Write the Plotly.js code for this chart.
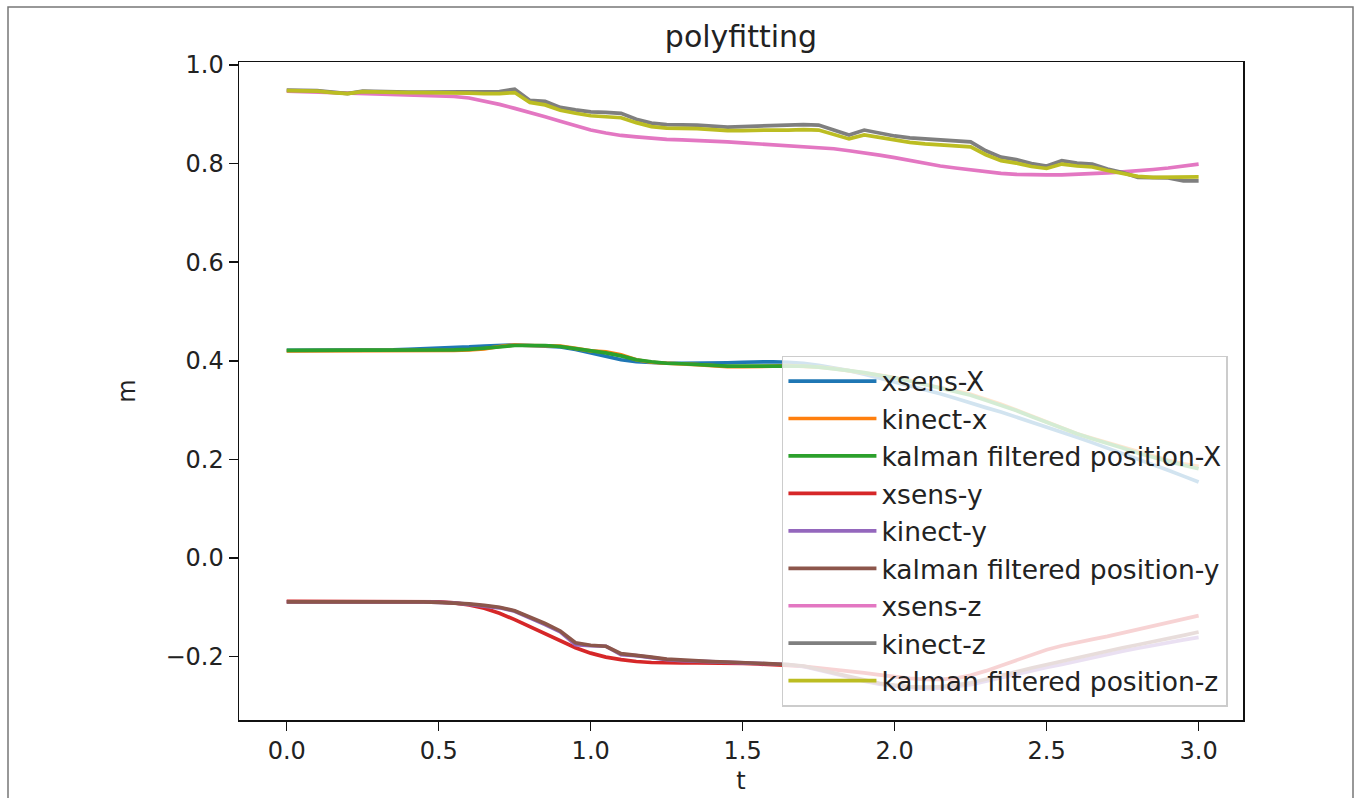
<!DOCTYPE html>
<html>
<head>
<meta charset="utf-8">
<script src="https://cdn.plot.ly/plotly-3.0.1.min.js"></script>
<style>
html,body{margin:0;padding:0;background:#fff;}
#chart{width:1360px;height:798px;}
</style>
</head>
<body>
<div id="chart"></div>
<script>
const t = [0.00,0.05,0.10,0.15,0.20,0.25,0.30,0.35,0.40,0.45,0.50,0.55,0.60,0.65,0.70,0.75,0.80,0.85,0.90,0.95,
  1.00,1.05,1.10,1.15,1.20,1.25,1.30,1.35,1.40,1.45,1.50,1.55,1.60,1.65,1.70,1.75,1.80,1.85,1.90,1.95,
  2.00,2.05,2.10,2.15,2.20,2.25,2.30,2.35,2.40,2.45,2.50,2.55,2.60,2.65,2.70,2.75,2.80,2.85,2.90,2.95,3.00];

const xsensX = [0.421,0.421,0.421,0.421,0.421,0.422,0.422,0.422,0.423,0.424,0.425,0.426,0.428,0.430,0.431,0.432,0.431,0.430,0.428,0.423,
  0.416,0.408,0.402,0.398,0.396,0.395,0.395,0.395,0.395,0.396,0.397,0.398,0.398,0.397,0.395,0.391,0.386,0.380,0.373,0.365,
  0.358,0.350,0.342,0.333,0.324,0.314,0.305,0.296,0.286,0.276,0.266,0.256,0.245,0.234,0.223,0.212,0.201,0.190,0.178,0.166,0.154];
const kinectX = [0.420,0.420,0.420,0.420,0.420,0.420,0.420,0.420,0.420,0.420,0.421,0.421,0.422,0.424,0.429,0.432,0.431,0.431,0.430,0.425,
  0.420,0.418,0.412,0.402,0.397,0.395,0.394,0.392,0.390,0.388,0.388,0.388,0.389,0.390,0.389,0.387,0.384,0.380,0.376,0.371,
  0.366,0.360,0.352,0.346,0.339,0.332,0.322,0.312,0.300,0.288,0.275,0.262,0.252,0.243,0.234,0.224,0.215,0.206,0.198,0.191,0.186];
const kalmanX = [0.421,0.421,0.421,0.421,0.421,0.421,0.421,0.421,0.421,0.421,0.421,0.422,0.423,0.425,0.428,0.431,0.431,0.431,0.429,0.425,
  0.420,0.416,0.410,0.402,0.398,0.395,0.394,0.392,0.391,0.389,0.389,0.389,0.389,0.390,0.389,0.387,0.384,0.380,0.376,0.371,
  0.365,0.359,0.352,0.345,0.338,0.330,0.320,0.310,0.299,0.287,0.275,0.263,0.252,0.242,0.233,0.223,0.213,0.204,0.196,0.188,0.181];

const xsensY = [-0.088,-0.088,-0.088,-0.088,-0.088,-0.088,-0.088,-0.088,-0.088,-0.088,-0.089,-0.091,-0.095,-0.102,-0.112,-0.125,-0.139,-0.154,-0.168,-0.182,
  -0.193,-0.201,-0.206,-0.210,-0.212,-0.213,-0.213,-0.213,-0.213,-0.213,-0.214,-0.215,-0.216,-0.218,-0.220,-0.223,-0.226,-0.229,-0.233,-0.237,
  -0.241,-0.244,-0.246,-0.246,-0.244,-0.238,-0.229,-0.218,-0.207,-0.196,-0.186,-0.178,-0.171,-0.165,-0.159,-0.152,-0.146,-0.139,-0.132,-0.124,-0.117];
const kinectY = [-0.089,-0.089,-0.089,-0.088,-0.089,-0.089,-0.089,-0.089,-0.089,-0.089,-0.090,-0.091,-0.094,-0.097,-0.101,-0.108,-0.121,-0.135,-0.150,-0.176,
  -0.178,-0.179,-0.196,-0.198,-0.202,-0.206,-0.208,-0.209,-0.210,-0.211,-0.212,-0.213,-0.214,-0.216,-0.220,-0.227,-0.234,-0.242,-0.250,-0.256,
  -0.260,-0.263,-0.265,-0.264,-0.261,-0.257,-0.250,-0.243,-0.236,-0.228,-0.222,-0.216,-0.209,-0.202,-0.196,-0.189,-0.183,-0.177,-0.172,-0.166,-0.161];
const kalmanY = [-0.089,-0.089,-0.089,-0.088,-0.089,-0.089,-0.089,-0.089,-0.089,-0.089,-0.090,-0.091,-0.093,-0.096,-0.100,-0.107,-0.119,-0.133,-0.148,-0.172,
  -0.177,-0.179,-0.194,-0.197,-0.201,-0.205,-0.207,-0.209,-0.210,-0.211,-0.212,-0.213,-0.214,-0.216,-0.219,-0.226,-0.233,-0.241,-0.248,-0.254,
  -0.258,-0.261,-0.262,-0.261,-0.258,-0.253,-0.246,-0.239,-0.231,-0.223,-0.216,-0.210,-0.203,-0.196,-0.189,-0.182,-0.176,-0.170,-0.164,-0.157,-0.150];

const xsensZ = [0.947,0.946,0.945,0.944,0.943,0.942,0.941,0.940,0.939,0.938,0.937,0.936,0.933,0.927,0.920,0.912,0.904,0.895,0.886,0.877,
  0.868,0.862,0.857,0.854,0.851,0.849,0.848,0.847,0.846,0.844,0.842,0.840,0.838,0.836,0.834,0.832,0.830,0.826,0.822,0.817,
  0.812,0.806,0.800,0.795,0.791,0.787,0.783,0.780,0.778,0.777,0.777,0.777,0.778,0.779,0.781,0.783,0.785,0.788,0.791,0.795,0.799];
const kinectZ = [0.949,0.949,0.948,0.945,0.942,0.947,0.946,0.946,0.945,0.945,0.945,0.946,0.946,0.945,0.946,0.951,0.928,0.926,0.914,0.909,
  0.905,0.904,0.902,0.890,0.882,0.879,0.879,0.878,0.876,0.874,0.875,0.876,0.877,0.878,0.879,0.878,0.868,0.858,0.868,0.862,
  0.856,0.852,0.850,0.848,0.847,0.844,0.826,0.813,0.808,0.800,0.795,0.806,0.801,0.799,0.789,0.782,0.772,0.771,0.771,0.765,0.765];
const kalmanZ = [0.948,0.948,0.947,0.944,0.942,0.946,0.945,0.945,0.944,0.944,0.944,0.944,0.943,0.942,0.942,0.944,0.924,0.919,0.908,0.902,
  0.897,0.895,0.893,0.883,0.875,0.872,0.872,0.871,0.869,0.867,0.867,0.868,0.868,0.868,0.869,0.868,0.859,0.850,0.858,0.853,
  0.848,0.843,0.840,0.838,0.837,0.834,0.818,0.806,0.801,0.794,0.790,0.799,0.795,0.793,0.786,0.780,0.774,0.772,0.772,0.773,0.773];

const names = ['xsens-X','kinect-x','kalman filtered position-X','xsens-y','kinect-y','kalman filtered position-y','xsens-z','kinect-z','kalman filtered position-z'];
const series = [xsensX,kinectX,kalmanX,xsensY,kinectY,kalmanY,xsensZ,kinectZ,kalmanZ];
const colors = ['#1f77b4','#ff7f0e','#2ca02c','#d62728','#9467bd','#8c564b','#e377c2','#7f7f7f','#bcbd22'];

const yTicks = [-0.2,0.0,0.2,0.4,0.6,0.8,1.0];
const xTicks = [0.0,0.5,1.0,1.5,2.0,2.5,3.0];

const traces = series.map((s,i)=>({
  x: t, y: s, name: names[i], type: 'scatter', mode: 'lines',
  line: {color: colors[i], width: 3.7}
}));

const F = 'DejaVu Sans, sans-serif';
const layout = {
  width: 1360, height: 798,
  margin: {l: 239, r: 117, t: 62, b: 78},
  paper_bgcolor: '#fff', plot_bgcolor: '#fff',
  font: {family: F, size: 24, color: '#222'},
  title: {text: 'polyfitting', font: {family: F, size: 30, color: '#222'}, x: 0.5, xref: 'paper', y: 1 - 36/798, yref: 'container', yanchor: 'middle'},
  xaxis: {
    range: [-0.157, 3.146], tickvals: xTicks, tickformat: '.1f',
    showline: true, mirror: true, linecolor: '#111', linewidth: 1.5,
    ticks: 'outside', ticklen: 9, tickwidth: 1.5, tickcolor: '#111',
    showgrid: false, zeroline: false,
    tickfont: {family: F, size: 24, color: '#222'},
    title: {text: 't', font: {family: F, size: 24, color: '#222'}, standoff: 8}
  },
  yaxis: {
    range: [-0.3286, 1.006], tickvals: yTicks, tickformat: '.1f',
    showline: true, mirror: true, linecolor: '#111', linewidth: 1.5,
    ticks: 'outside', ticklen: 9, tickwidth: 1.5, tickcolor: '#111',
    showgrid: false, zeroline: false,
    tickfont: {family: F, size: 24, color: '#222'},
    title: {text: 'm', font: {family: F, size: 24, color: '#222'}, standoff: 23}
  },
  showlegend: true,
  legend: {
    x: 0.985, y: 0.02, xanchor: 'right', yanchor: 'bottom',
    bgcolor: 'rgba(255,255,255,0.8)', bordercolor: '#cccccc', borderwidth: 1.5,
    itemwidth: 88,
    font: {family: F, size: 26.5, color: '#222'}
  },
  shapes: [{
    type: 'rect', xref: 'paper', yref: 'paper',
    x0: (8-239)/1004, x1: (1353-239)/1004, y0: (720-805)/658, y1: (720-7)/658,
    line: {color: '#777', width: 1.5}, fillcolor: 'rgba(0,0,0,0)', layer: 'below'
  }]
};

Plotly.newPlot('chart', traces, layout, {displayModeBar: false, staticPlot: true});
</script>
</body>
</html>
